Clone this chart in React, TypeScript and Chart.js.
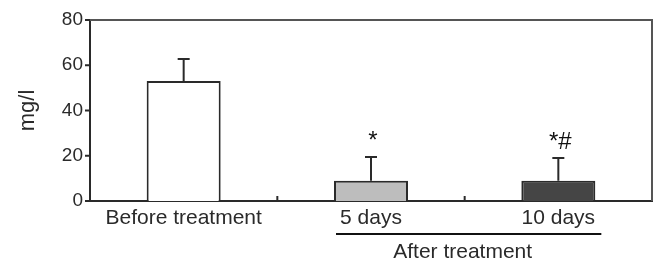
import React, { useEffect, useRef } from "react";
import { Chart, registerables } from "chart.js";

Chart.register(...registerables);

const categories = ["Before treatment", "5 days", "10 days"];
const means = [53, 9, 9];
const sdUpper = [9.8, 10.5, 10];
const marks = ["", "*", "*#"];
const barColors = ["#ffffff", "#bdbdbd", "#454545"];
const yTicks = [0, 20, 40, 60, 80];
const groupLabel = "After treatment";
const yTitle = "mg/l";

const INK = "#2a2a2a";
const FONT = "'Liberation Sans', Arial, sans-serif";

const overlay = {
  id: "overlay",
  afterDatasetsDraw(chart: any) {
    const ctx = chart.ctx;
    const meta = chart.getDatasetMeta(0);
    const ys = chart.scales.y;
    const xs = chart.scales.x;
    const area = chart.chartArea;
    ctx.save();
    // y tick marks (outside)
    ctx.strokeStyle = INK;
    ctx.lineWidth = 2;
    yTicks.forEach((v) => {
      const y = ys.getPixelForValue(v);
      ctx.beginPath();
      ctx.moveTo(area.left - 5, y);
      ctx.lineTo(area.left, y);
      ctx.stroke();
    });
    // error bars
    meta.data.forEach((bar: any, i: number) => {
      const top = ys.getPixelForValue(means[i] + sdUpper[i]);
      ctx.strokeStyle = INK;
      ctx.lineWidth = 2;
      ctx.beginPath();
      ctx.moveTo(bar.x, bar.y);
      ctx.lineTo(bar.x, top);
      ctx.moveTo(bar.x - 6, top);
      ctx.lineTo(bar.x + 6, top);
      ctx.stroke();
      if (marks[i]) {
        ctx.fillStyle = "#111";
        ctx.font = `24px ${FONT}`;
        ctx.textAlign = "center";
        ctx.textBaseline = "middle";
        ctx.fillText(marks[i], bar.x + 2, top - 16);
      }
    });
    // box border top and right
    ctx.strokeStyle = "#555";
    ctx.lineWidth = 2;
    ctx.beginPath();
    ctx.moveTo(area.left, area.top);
    ctx.lineTo(area.right, area.top);
    ctx.lineTo(area.right, area.bottom);
    ctx.stroke();
    // inner ticks between categories
    ctx.strokeStyle = INK;
    for (let i = 0; i < categories.length - 1; i++) {
      const x = (xs.getPixelForValue(i) + xs.getPixelForValue(i + 1)) / 2;
      ctx.beginPath();
      ctx.moveTo(x, area.bottom);
      ctx.lineTo(x, area.bottom - 5);
      ctx.stroke();
    }
    // group line and label
    const b1 = meta.data[1];
    const b2 = meta.data[2];
    const x1 = b1.x - b1.width / 2 + 2;
    const x2 = b2.x + b2.width / 2 + 6;
    ctx.lineWidth = 2;
    ctx.strokeStyle = "#111";
    ctx.beginPath();
    ctx.moveTo(x1, area.bottom + 33);
    ctx.lineTo(x2, area.bottom + 33);
    ctx.stroke();
    ctx.fillStyle = INK;
    ctx.font = `21px ${FONT}`;
    ctx.textAlign = "center";
    ctx.textBaseline = "middle";
    ctx.fillText(groupLabel, (x1 + x2) / 2 - 6, area.bottom + 51);
    ctx.restore();
  },
};

export default function App() {
  const ref = useRef<HTMLCanvasElement>(null);
  useEffect(() => {
    document.body.style.margin = "0";
    const chart = new Chart(ref.current as HTMLCanvasElement, {
      type: "bar",
      data: {
        labels: categories,
        datasets: [
          {
            data: means,
            backgroundColor: barColors,
            borderColor: INK,
            borderWidth: 2,
            borderSkipped: "bottom",
            barPercentage: 0.395,
            categoryPercentage: 1,
          },
        ],
      },
      options: {
        animation: false,
        responsive: false,
        maintainAspectRatio: false,
        layout: { padding: { top: 20, right: 5, left: 0, bottom: 0 } },
        plugins: { legend: { display: false }, tooltip: { enabled: false } },
        scales: {
          x: {
            offset: true,
            grid: { display: false, drawTicks: false },
            border: { display: true, color: INK, width: 2 },
            ticks: {
              color: INK,
              font: { family: FONT, size: 21 },
              padding: 5,
              maxRotation: 0,
              autoSkip: false,
            },
            afterFit: (s: any) => {
              s.height = 61;
            },
          },
          y: {
            min: 0,
            max: 80,
            afterBuildTicks: (s: any) => {
              s.ticks = yTicks.map((v) => ({ value: v }));
            },
            grid: { display: false, drawTicks: false },
            border: { display: true, color: INK, width: 2 },
            ticks: {
              color: INK,
              font: { family: FONT, size: 19 },
              padding: 7,
            },
            title: {
              display: true,
              text: yTitle,
              color: INK,
              font: { family: FONT, size: 22 },
              padding: { top: 15, bottom: 0 },
            },
            afterFit: (s: any) => {
              s.width = 90;
            },
          },
        },
      },
      plugins: [overlay],
    });
    return () => chart.destroy();
  }, []);
  return (
    <div style={{ position: "fixed", left: 0, top: 0, width: 657, height: 262, background: "#fff" }}>
      <canvas ref={ref} width={657} height={262} />
    </div>
  );
}
